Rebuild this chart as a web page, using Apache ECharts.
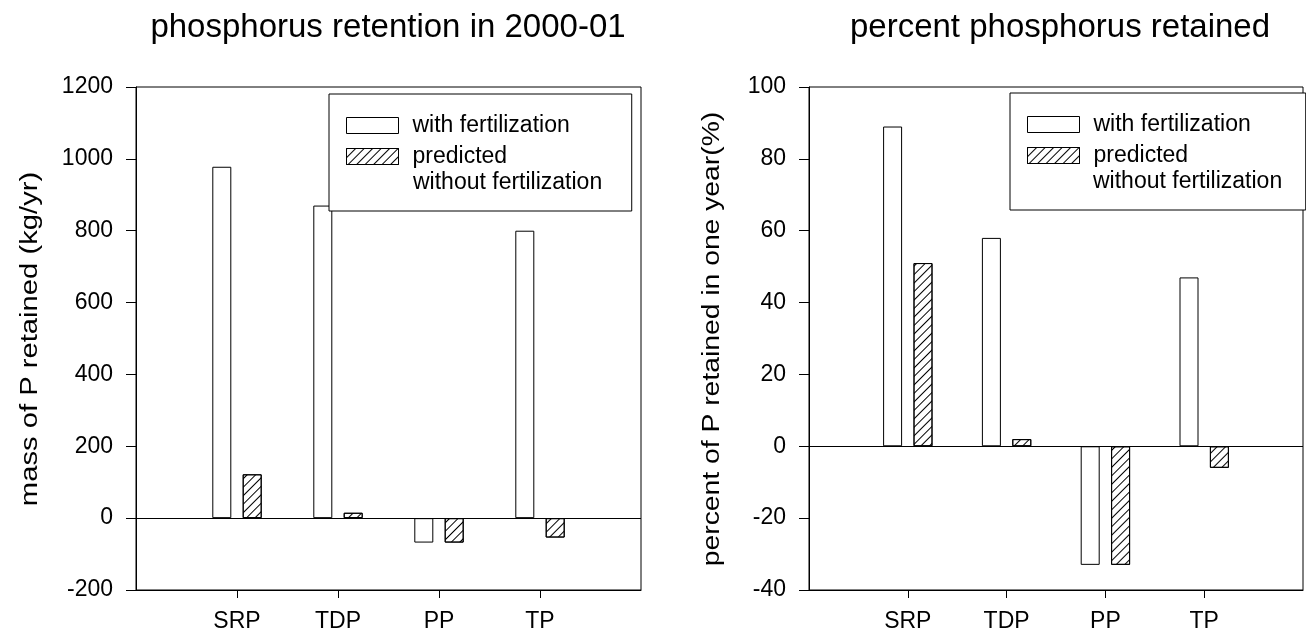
<!DOCTYPE html>
<html lang="en">

<head>
    <meta charset="UTF-8">
    <title>phosphorus retention</title>
    <script type="text/javascript" src="https://cdn.jsdelivr.net/npm/echarts@6/dist/echarts.min.js"></script>
    <style>
        html, body { margin: 0; padding: 0; background: #fff; }
    </style>
</head>

<body>
    <div id="main" style="width: 1306px; height: 633px;"></div>

    <script type="text/javascript">
        // data
        var categories = ['SRP', 'TDP', 'PP', 'TP'];
        var massWith = [978, 870, -68, 800];          // kg/yr
        var massWithout = [122, 15, -68, -54];
        var pctWith = [89, 58, -33, 47];              // %
        var pctWithout = [51, 2, -33, -6];
        var massTicks = { min: -200, max: 1200, interval: 200 };
        var pctTicks = { min: -40, max: 100, interval: 20 };

        var nameWith = 'with fertilization';
        var nameWithout = 'predicted without fertilization';
        var font = '"Liberation Sans", Arial, sans-serif';

        // empty slots on both ends so the 4 groups sit at 1/5 .. 4/5 of the axis
        var axisCats = [''].concat(categories, ['']);
        function pad(arr) { return [null].concat(arr, [null]); }

        var hatch = {
            symbol: 'rect',
            symbolSize: 1,
            color: '#000',
            dashArrayX: [1, 0],
            dashArrayY: [1, 5],
            rotation: -Math.PI / 4
        };

        function xAxis(gi) {
            return {
                type: 'category',
                gridIndex: gi,
                data: axisCats,
                boundaryGap: false,
                axisLine: { onZero: false, lineStyle: { color: '#000', width: 1 } },
                axisTick: {
                    length: 8,
                    lineStyle: { color: '#000' },
                    interval: function (i, v) { return v !== ''; }
                },
                axisLabel: { interval: 0, color: '#000', fontSize: 23, fontFamily: font, margin: 20 },
                splitLine: { show: false }
            };
        }

        function yAxis(gi, t) {
            return {
                type: 'value',
                gridIndex: gi,
                min: t.min, max: t.max, interval: t.interval,
                axisLine: { show: true, lineStyle: { color: '#000', width: 1 } },
                axisTick: { show: true, length: 10, lineStyle: { color: '#000' } },
                axisLabel: {
                    color: '#000', fontSize: 23, fontFamily: font, margin: 23,
                    formatter: function (v) { return String(v); }
                },
                splitLine: { show: false }
            };
        }

        function bars(name, gi, vals, decal, zeroLine) {
            var s = {
                name: name,
                type: 'bar',
                xAxisIndex: gi,
                yAxisIndex: gi,
                data: pad(vals),
                barWidth: 19,
                barGap: '60%',
                itemStyle: { color: '#fff', borderColor: '#000', borderWidth: 1 },
                emphasis: { disabled: true }
            };
            if (decal) s.itemStyle.decal = decal;
            if (zeroLine) {
                s.markLine = {
                    silent: true,
                    symbol: 'none',
                    label: { show: false },
                    lineStyle: { color: '#000', width: 1, type: 'solid' },
                    data: [{ yAxis: 0 }]
                };
            }
            return s;
        }

        function legend(left, top, padRight) {
            return {
                data: [nameWith, nameWithout],
                orient: 'vertical',
                left: left, top: top,
                icon: 'rect',
                itemWidth: 52, itemHeight: 16, itemGap: 8,
                padding: [20, padRight, 43, 17],
                backgroundColor: '#fff',
                borderColor: '#000', borderWidth: 1,
                selectedMode: false,
                itemStyle: { borderColor: '#000', borderWidth: 1 },
                formatter: function (n) { return n === nameWithout ? 'predicted' : n; },
                textStyle: { color: '#000', fontSize: 23, fontFamily: font, padding: [0, 0, 0, 9] }
            };
        }

        function sideText(text, x, y, rot, sx, size, align) {
            return {
                type: 'text', x: x, y: y, rotation: rot || 0, scaleX: sx || 1, z: 100,
                style: {
                    text: text, fill: '#000',
                    font: size + 'px ' + font,
                    align: align || 'center', verticalAlign: 'middle'
                }
            };
        }

        var myChart = echarts.init(document.getElementById('main'));

        myChart.setOption({
            animation: false,
            title: [
                { text: 'phosphorus retention in 2000-01', left: 388, top: 11, textAlign: 'center', padding: 0,
                  textStyle: { fontSize: 33, fontWeight: 'normal', color: '#000', fontFamily: font } },
                { text: 'percent phosphorus retained', left: 1060, top: 11, textAlign: 'center', padding: 0,
                  textStyle: { fontSize: 33, fontWeight: 'normal', color: '#000', fontFamily: font } }
            ],
            grid: [
                { left: 136, top: 87, width: 505, height: 504, show: true, borderColor: '#000', borderWidth: 1 },
                { left: 809, top: 87, width: 504, height: 504, show: true, borderColor: '#000', borderWidth: 1 }
            ],
            xAxis: [xAxis(0), xAxis(1)],
            yAxis: [yAxis(0, massTicks), yAxis(1, pctTicks)],
            legend: [legend(329, 94, 62), legend(1010, 93, 55)],
            graphic: [
                sideText('mass of P retained (kg/yr)', 31, 339, Math.PI / 2, 1.27, 23),
                sideText('percent of P retained in one year(%)', 713, 339, Math.PI / 2, 1.23, 23),
                sideText('without fertilization', 413, 183, 0, 1, 23, 'left'),
                sideText('without fertilization', 1093, 182, 0, 1, 23, 'left')
            ],
            series: [
                bars(nameWith, 0, massWith, null, true),
                bars(nameWithout, 0, massWithout, hatch),
                bars(nameWith, 1, pctWith, null, true),
                bars(nameWithout, 1, pctWithout, hatch)
            ]
        });
    </script>

</body>

</html>
